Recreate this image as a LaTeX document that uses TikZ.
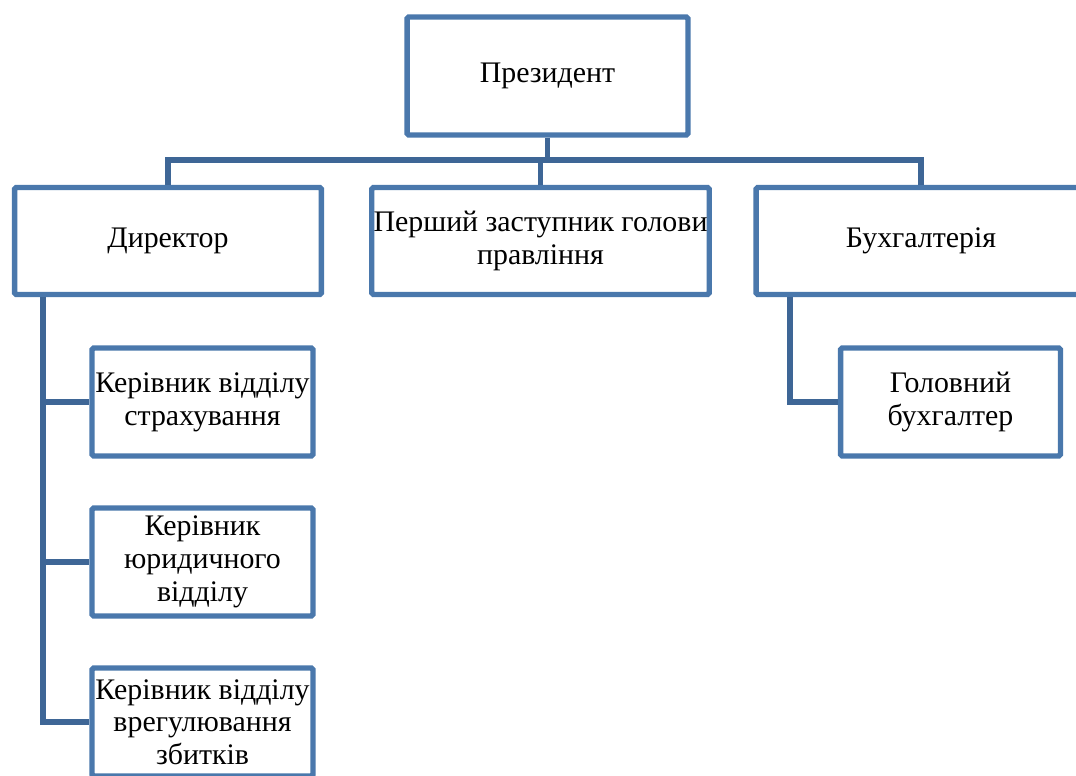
\documentclass[tikz,border=0pt]{standalone}
\usepackage{fontspec}
\setmainfont{Liberation Serif}
\usetikzlibrary{positioning}
\definecolor{boxblue}{RGB}{74,120,172}
\definecolor{lineblue}{RGB}{62,102,150}

\begin{document}
\begin{tikzpicture}[
  x=0.02cm, y=-0.02cm,
  line width=3.1pt,
  every node/.style={draw=boxblue,fill=white,rounded corners=1pt,align=center,inner sep=1pt,
    font=\fontsize{17}{18.6}\selectfont},
  topbox/.style={minimum width=6.6cm,minimum height=2.14cm},
  subbox/.style={minimum width=4.42cm,minimum height=2.16cm},
  link/.style={draw=lineblue,line width=3.1pt}
]%
  \clip (0,0) rectangle (1076,776);

  \node (bP) [minimum width=5.62cm,minimum height=2.36cm] at (547.5,76) {Президент};

  \node (bD) [topbox,minimum width=6.14cm] at (168,241) {Директор};
  \node (bZ) [topbox,minimum width=6.64cm] at (540.5,241) {Перший заступник голови\\правління};
  \node (bB) [topbox] at (921,241) {Бухгалтерія};

  \node (bD1) [subbox] at (202.5,402) {Керівник відділу\\страхування};
  \node (bD2) [subbox] at (202.5,562) {Керівник\\юридичного\\відділу};
  \node (bD3) [subbox] at (202.5,722) {Керівник відділу\\врегулювання\\збитків};

  \node (bB1) [subbox,minimum width=4.4cm] at (950.5,402) {Головний\\бухгалтер};

  % levels
  \coordinate (bus) at (0,160);
  \coordinate (tD) at (43,0);
  \coordinate (tB) at (790,0);

  \draw[link] (bP.south) -- (bP.south |- bus);
  \draw[link] (bD.north) |- (bus -| bB.north) -- (bB.north);
  \draw[link] (bZ.north) -- (bZ.north |- bus);

  \draw[link] (bD.south -| tD) |- (bD3.west);
  \draw[link] (tD |- bD1.west) -- (bD1.west);
  \draw[link] (tD |- bD2.west) -- (bD2.west);

  \draw[link] (bB.south -| tB) |- (bB1.west);

\end{tikzpicture}
\end{document}
